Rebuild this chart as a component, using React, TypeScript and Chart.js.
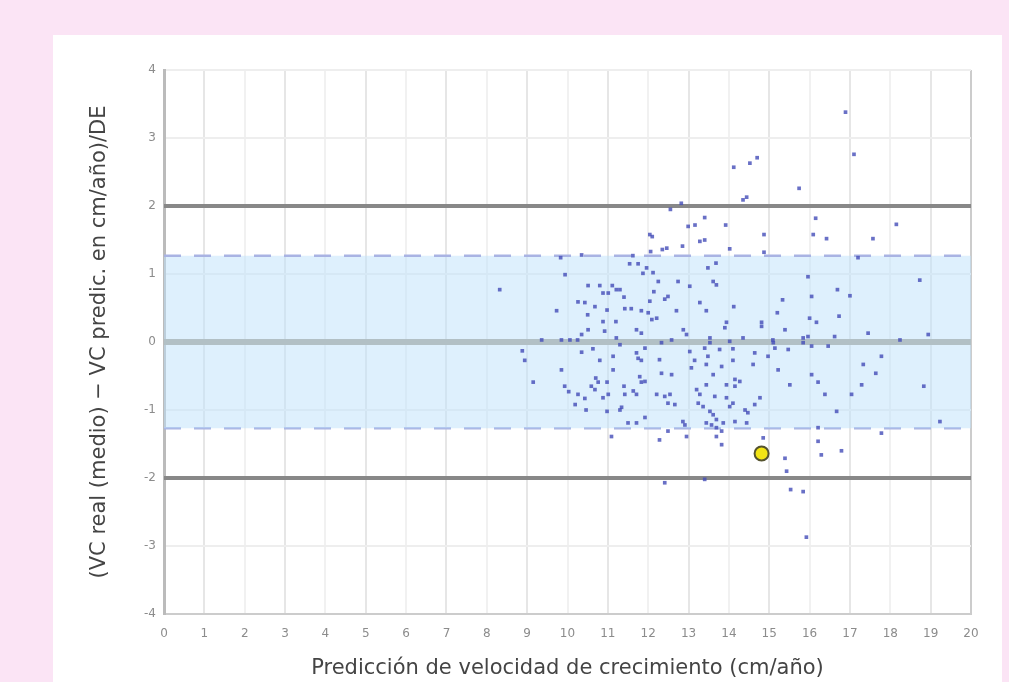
import React, { useEffect, useRef } from "react";
import { Chart, registerables } from "chart.js";

Chart.register(...registerables);

// ---- Data ----
const xTicks: number[] = [0, 20];
const yTicks: number[] = [-4, 4];
const xTitle = "Predicción de velocidad de crecimiento (cm/año)";
const yTitle = "(VC real (medio) − VC predic. en cm/año)/DE";

const upperLimit = 2;
const lowerLimit = -2;
const meanLine = 0;
const bandUpper = 1.27;
const bandLower = -1.27;

const pointsX: number[] = [
  16.89, 17.10, 14.12, 14.52, 14.70, 15.74, 12.82, 12.55, 14.35, 14.44,
  13.40, 12.99, 13.16, 13.92, 16.15, 18.15, 12.10, 12.04, 12.85, 13.28,
  13.40, 14.87, 16.09, 16.42, 17.57, 12.35, 12.46, 14.02, 14.87, 12.06,
  10.35, 9.83, 11.62, 17.20,
  13.68, 13.48, 11.96, 12.12, 9.94, 8.32, 11.54, 11.75, 11.87, 12.25,
  12.74, 13.03, 13.61, 13.69, 15.96, 18.73, 16.69, 17.00, 16.05, 15.33,
  14.12, 15.20, 16.00, 16.17, 16.73, 10.51, 10.80, 11.11, 10.88, 11.01,
  11.21, 11.30, 11.40, 10.26, 9.73, 10.68, 10.98, 11.42, 11.58, 11.83,
  10.88, 11.20, 12.04, 12.41, 12.70, 13.44, 12.00, 12.21, 13.94, 14.81,
  9.36, 9.85, 10.06, 10.25, 10.35, 10.92, 11.21, 11.71, 11.83, 12.87,
  12.95, 13.90, 14.81, 15.39, 12.33, 12.58, 13.53, 13.53, 14.02, 14.35,
  15.09, 15.84, 15.96, 15.84, 16.62, 17.45, 18.24, 18.94, 16.05, 16.46,
  8.88, 8.94, 10.35, 10.63, 10.80, 11.13, 11.71, 11.75, 11.83, 13.40,
  13.48, 14.10, 14.64, 14.97, 15.47, 11.92, 13.15, 13.07, 13.44, 13.82,
  14.10, 14.60, 15.22, 9.85, 11.13, 12.33, 12.58, 13.61, 14.15, 14.27,
  13.94, 14.15, 13.44, 13.20, 15.51, 11.92, 9.15, 9.93, 10.03, 10.26,
  10.43, 10.70, 10.59, 10.68, 10.76, 10.98, 11.01, 10.88, 11.40, 11.42,
  11.63, 11.71, 11.83, 12.21, 12.41, 12.54, 12.49, 13.65, 13.94, 14.77,
  13.24, 13.36, 14.02, 14.10, 13.53, 13.61, 14.47, 12.86, 12.91, 13.44,
  13.57, 13.69, 13.86, 14.15, 14.44, 11.92, 12.49, 13.69, 13.82, 12.28,
  12.95, 13.69, 13.82, 14.85, 15.39, 15.43, 15.53, 12.41, 13.40, 17.78,
  17.33, 17.64, 16.05, 16.21, 17.29, 18.83, 16.38, 17.04, 16.67, 19.23,
  16.21, 17.78, 16.21, 16.29, 16.79, 15.84, 15.92, 10.98, 11.34, 11.50,
  11.71, 11.09, 15.10, 15.14, 10.43, 10.50, 12.14, 12.49, 13.28,
  10.51, 11.30, 12.09, 13.03, 13.28, 14.40, 14.64, 11.30, 11.79, 12.66,
  13.77, 12.28, 10.46, 10.19,
];
const pointsY: number[] = [
  3.38, 2.76, 2.57, 2.63, 2.71, 2.26, 2.04, 1.95, 2.09, 2.13,
  1.83, 1.70, 1.72, 1.72, 1.82, 1.73, 1.55, 1.58, 1.41, 1.48,
  1.50, 1.58, 1.58, 1.52, 1.52, 1.36, 1.38, 1.37, 1.32, 1.33,
  1.28, 1.24, 1.27, 1.24,
  1.16, 1.09, 1.09, 1.02, 0.99, 0.77, 1.15, 1.15, 1.01, 0.89,
  0.89, 0.82, 0.89, 0.84, 0.96, 0.91, 0.77, 0.68, 0.67, 0.62,
  0.52, 0.43, 0.35, 0.29, 0.38, 0.83, 0.83, 0.83, 0.72, 0.72,
  0.77, 0.77, 0.66, 0.59, 0.46, 0.52, 0.47, 0.49, 0.49, 0.46,
  0.30, 0.30, 0.60, 0.63, 0.46, 0.46, 0.43, 0.35, 0.29, 0.29,
  0.03, 0.03, 0.03, 0.03, 0.11, 0.16, 0.06, 0.18, 0.13, 0.18,
  0.11, 0.21, 0.23, 0.18, -0.01, 0.03, 0.06, -0.01, 0.01, 0.06,
  0.03, 0.06, 0.08, -0.01, 0.08, 0.13, 0.03, 0.11, -0.06, -0.06,
  -0.13, -0.27, -0.15, -0.10, -0.27, -0.21, -0.16, -0.24, -0.27, -0.09,
  -0.21, -0.10, -0.16, -0.21, -0.11, -0.09, -0.27, -0.38, -0.33, -0.36,
  -0.27, -0.33, -0.41, -0.41, -0.41, -0.46, -0.48, -0.48, -0.55, -0.58,
  -0.63, -0.65, -0.63, -0.70, -0.63, -0.58, -0.59, -0.65, -0.73, -0.77,
  -0.83, -0.53, -0.65, -0.70, -0.59, -0.59, -0.77, -0.82, -0.65, -0.77,
  -0.72, -0.77, -0.59, -0.77, -0.80, -0.77, -0.90, -0.80, -0.82, -0.82,
  -0.90, -0.95, -0.95, -0.90, -1.02, -1.07, -1.04, -1.17, -1.22, -1.19,
  -1.22, -1.14, -1.19, -1.17, -1.19, -1.11, -1.31, -1.26, -1.31, -1.44,
  -1.39, -1.39, -1.51, -1.41, -1.71, -1.90, -2.17, -2.07, -2.02, -0.21,
  -0.33, -0.46, -0.48, -0.59, -0.63, -0.65, -0.77, -0.77, -1.02, -1.17,
  -1.26, -1.34, -1.46, -1.66, -1.60, -2.20, -2.87, -1.02, -0.96, -1.19,
  -1.19, -1.39, -0.01, -0.09, 0.58, 0.40, 0.74, 0.67, 0.58,
  0.18, -0.04, 0.33, -0.14, -0.77, -1.00, -0.92, -1.00, -0.51, -0.92,
  -0.11, -0.26, -1.00, -0.92,
];

const highlightX: number[] = [14.81];
const highlightY: number[] = [-1.64];

export default function App() {
  const canvasRef = useRef<HTMLCanvasElement | null>(null);

  useEffect(() => {
    const canvas = canvasRef.current;
    if (!canvas) return;
    const [xMin, xMax] = xTicks;
    const [yMin, yMax] = yTicks;
    const hLine = (v: number) => [
      { x: xMin, y: v },
      { x: xMax, y: v },
    ];
    const font = "'DejaVu Sans', sans-serif";

    const chart = new Chart(canvas, {
      type: "scatter",
      data: {
        datasets: [
          {
            data: highlightX.map((x, i) => ({ x, y: highlightY[i] })),
            backgroundColor: "#f2e414",
            borderColor: "#55532e",
            borderWidth: 2,
            pointRadius: 7,
            pointStyle: "circle",
            order: -1,
          } as any,
          {
            data: pointsX.map((x, i) => ({ x, y: pointsY[i] })),
            backgroundColor: "rgba(68,76,184,0.8)",
            borderWidth: 0,
            pointRadius: 2.6,
            pointStyle: "rect",
            order: 0,
          } as any,
          {
            data: hLine(upperLimit),
            showLine: true,
            borderColor: "#888888",
            borderWidth: 4,
            pointRadius: 0,
            order: 3,
          } as any,
          {
            data: hLine(lowerLimit),
            showLine: true,
            borderColor: "#888888",
            borderWidth: 4,
            pointRadius: 0,
            order: 3,
          } as any,
          {
            data: hLine(meanLine),
            showLine: true,
            borderColor: "#b2c0c5",
            borderWidth: 6,
            pointRadius: 0,
            order: 4,
          } as any,
          {
            data: hLine(bandUpper),
            showLine: true,
            borderColor: "#a9b3e3",
            borderWidth: 2.5,
            borderDash: [17, 13],
            pointRadius: 0,
            fill: "+1",
            backgroundColor: "rgba(190,226,251,0.5)",
            order: 5,
          } as any,
          {
            data: hLine(bandLower),
            showLine: true,
            borderColor: "#a9b3e3",
            borderWidth: 2.5,
            borderDash: [17, 13],
            pointRadius: 0,
            order: 5,
          } as any,
        ],
      },
      options: {
        animation: false,
        responsive: false,
        maintainAspectRatio: false,
        layout: { padding: { left: 0, top: 35, right: 31, bottom: 0 } },
        plugins: {
          legend: { display: false },
          tooltip: { enabled: false },
        },
        scales: {
          x: {
            type: "linear",
            min: xMin,
            max: xMax,
            afterFit: (s: any) => {
              s.height = 68;
            },
            ticks: {
              stepSize: 1,
              padding: 13,
              color: "#8c8c8c",
              font: { family: font, size: 12 },
            },
            grid: {
              drawTicks: false,
              lineWidth: 2,
              color: (ctx: any) => {
                const v = ctx.tick ? ctx.tick.value : 0;
                if (v === xMax) return "#cccccc";
                return Math.abs(v) % 2 === 1 ? "#e6e6e6" : "#f1f1f1";
              },
            },
            border: { display: true, color: "#cccccc", width: 2 },
            title: {
              display: true,
              text: xTitle,
              color: "#444444",
              font: { family: font, size: 21 },
              padding: { top: 0, bottom: 1 },
            },
          },
          y: {
            type: "linear",
            min: yMin,
            max: yMax,
            afterFit: (s: any) => {
              s.width = 111;
            },
            ticks: {
              stepSize: 1,
              padding: 8,
              color: "#8c8c8c",
              font: { family: font, size: 12 },
            },
            grid: {
              drawTicks: false,
              lineWidth: 2,
              color: "#eeeeee",
            },
            border: { display: true, color: "#bbbbbb", width: 3 },
            title: {
              display: true,
              text: yTitle,
              color: "#444444",
              font: { family: font, size: 21 },
              padding: { top: 34, bottom: 0 },
            },
          },
        },
      } as any,
    });
    return () => chart.destroy();
  }, []);

  return (
    <div
      style={{
        position: "fixed",
        left: 0,
        top: 0,
        width: 1009,
        height: 682,
        background: "#fbe4f5",
        overflow: "hidden",
      }}
    >
      <div
        style={{
          position: "absolute",
          left: 53,
          top: 35,
          width: 949,
          height: 647,
          background: "#ffffff",
        }}
      >
        <canvas ref={canvasRef} width={949} height={647} style={{ display: "block" }} />
      </div>
    </div>
  );
}
